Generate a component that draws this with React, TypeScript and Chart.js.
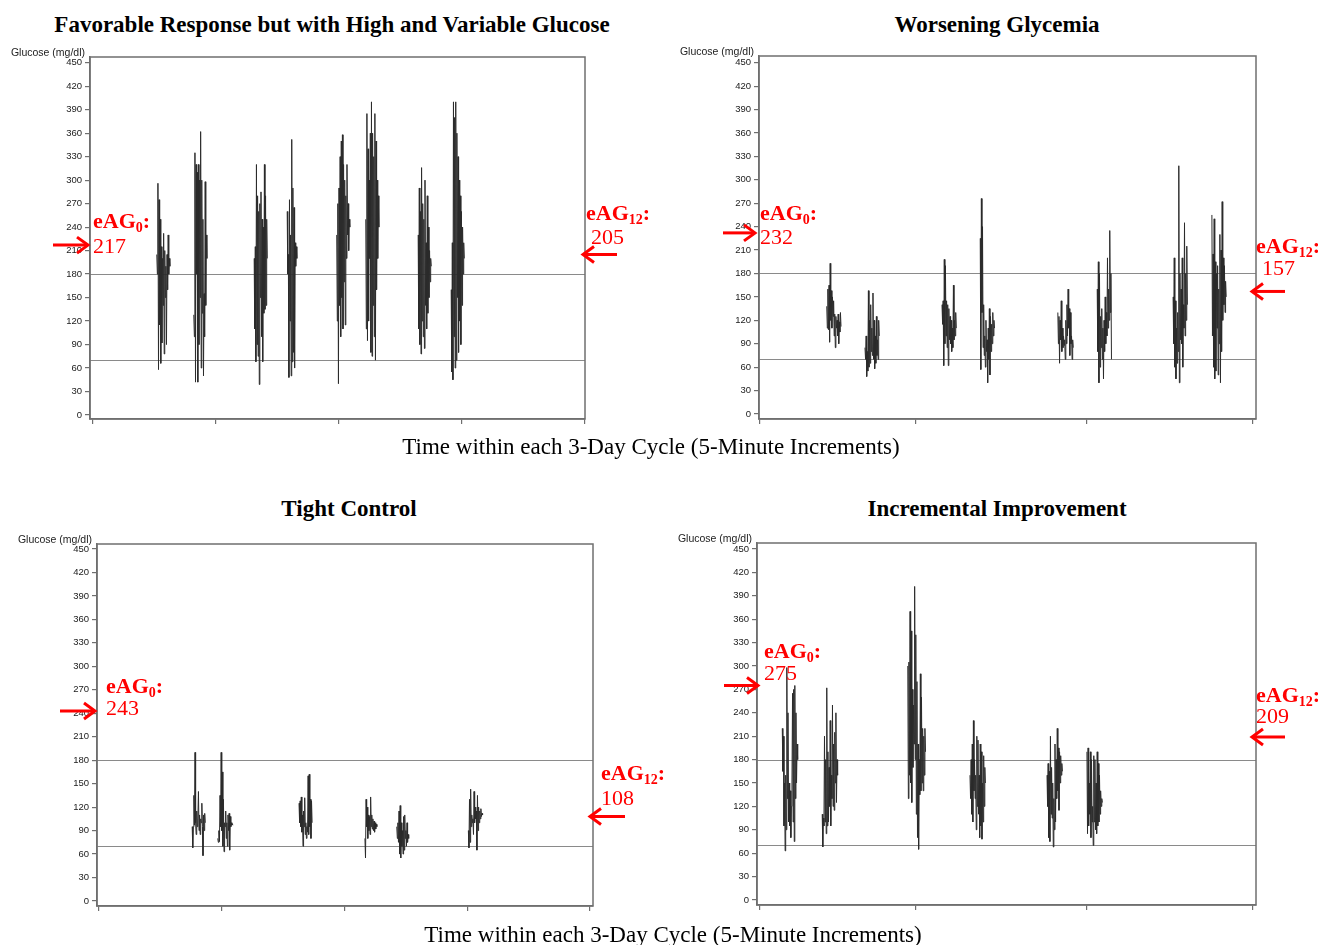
import React, { useEffect, useRef } from 'react';
import { Chart, registerables } from 'chart.js';

Chart.register(...registerables);

// ---------- text ----------
const TITLES = [
  'Favorable Response but with High and Variable Glucose',
  'Worsening Glycemia',
  'Tight Control',
  'Incremental Improvement',
];
const X_AXIS_TITLE = 'Time within each 3-Day Cycle (5-Minute Increments)';
const Y_AXIS_LABEL = 'Glucose (mg/dl)';

// ---------- axes ----------
const Y_TICKS = [0, 30, 60, 90, 120, 150, 180, 210, 240, 270, 300, 330, 360, 390, 420, 450];
const X_TICKS_LEFT = [0, 216, 432, 648, 864];
const X_TICKS_RIGHT = [0, 272, 573, 864];
const TARGET_HIGH = 180;
const TARGET_LOW = 70;

// ---------- eAG annotations ----------
const EAG_BASELINE = [217, 232, 243, 275];
const EAG_MONTH12 = [205, 157, 108, 209];

// ---------- glucose traces (start index in 5-min increments + readings) ----------
const favorableStarts = [112, 177, 283, 341, 428, 479, 571, 629];
const favorableBursts = [
  [205, 180, 296, 58, 275, 115, 250, 66, 215, 92, 200, 140, 232, 78, 210, 150, 190, 90, 205, 160, 230, 180, 200, 190],
  [128, 100, 335, 42, 320, 180, 310, 42, 320, 90, 300, 150, 362, 60, 300, 130, 250, 50, 155, 100, 298, 140, 230, 200],
  [200, 110, 215, 68, 320, 90, 280, 75, 260, 39, 270, 150, 285, 100, 250, 68, 240, 130, 320, 135, 280, 140, 250, 200],
  [260, 180, 205, 48, 275, 120, 230, 50, 352, 68, 290, 80, 265, 60, 220, 190, 215, 200],
  [230, 120, 270, 40, 290, 140, 330, 100, 350, 150, 358, 110, 320, 170, 300, 115, 280, 200, 320, 230, 270, 210, 250, 240],
  [250, 110, 385, 95, 340, 120, 300, 200, 360, 80, 400, 75, 360, 140, 330, 100, 385, 70, 350, 160, 300, 200, 280, 240],
  [230, 110, 290, 90, 260, 78, 316, 120, 270, 100, 250, 85, 300, 140, 220, 110, 280, 130, 240, 150, 210, 170, 200, 190],
  [160, 55, 220, 45, 400, 100, 380, 60, 400, 70, 360, 150, 330, 80, 300, 120, 280, 90, 260, 140, 240, 180, 220, 200],
];

const worseningStarts = [117, 184, 319, 386, 522, 591, 724, 792];
const worseningBursts = [
  [138, 110, 160, 108, 165, 92, 193, 120, 158, 110, 150, 125, 145, 100, 128, 85, 125, 110, 120, 100, 128, 90, 118, 105, 130, 112],
  [85, 70, 100, 48, 80, 55, 158, 60, 120, 65, 140, 80, 110, 75, 155, 70, 120, 58, 100, 65, 125, 75, 95, 70, 120, 100],
  [140, 115, 145, 62, 198, 90, 190, 100, 145, 85, 140, 62, 135, 95, 125, 90, 120, 80, 110, 85, 165, 95, 120, 100, 130, 110],
  [225, 57, 276, 130, 240, 85, 140, 75, 100, 60, 120, 80, 95, 40, 110, 70, 135, 50, 125, 80, 115, 90, 130, 100, 120, 110],
  [130, 90, 125, 65, 120, 95, 145, 80, 110, 85, 100, 88, 95, 70, 120, 90, 140, 100, 160, 110, 135, 75, 130, 90, 100, 70, 95, 85],
  [160, 80, 195, 40, 180, 60, 125, 85, 135, 70, 110, 45, 120, 80, 150, 90, 130, 100, 200, 110, 160, 120, 235, 130, 180, 70],
  [150, 90, 200, 60, 145, 45, 110, 65, 130, 80, 318, 40, 180, 95, 160, 90, 200, 60, 140, 110, 245, 100, 180, 120, 215, 140],
  [255, 100, 205, 60, 250, 45, 195, 55, 180, 110, 190, 50, 160, 90, 230, 40, 210, 80, 272, 120, 200, 140, 190, 130, 170, 150],
];

const tightStarts = [164, 209, 352, 468, 524, 650];
const tightBursts = [
  [95, 68, 95, 135, 97, 190, 100, 85, 115, 95, 105, 140, 90, 110, 85, 105, 100, 125, 95, 58, 110, 90, 112, 100],
  [80, 75, 90, 76, 135, 95, 190, 90, 165, 70, 130, 63, 100, 95, 115, 80, 100, 70, 110, 90, 112, 65, 108, 95, 100, 97, 98, 97],
  [125, 100, 128, 95, 133, 88, 110, 70, 115, 95, 132, 85, 100, 80, 95, 88, 160, 85, 162, 95, 130, 80, 128, 100],
  [80, 55, 130, 95, 120, 80, 110, 90, 108, 85, 133, 95, 110, 92, 105, 90, 102, 88, 100, 92, 98, 95],
  [95, 80, 100, 75, 115, 60, 122, 55, 100, 70, 90, 60, 108, 65, 110, 80, 90, 70, 100, 75, 85, 80],
  [90, 68, 130, 75, 143, 95, 110, 100, 105, 85, 140, 100, 120, 105, 115, 65, 135, 90, 120, 100, 115, 105, 118, 108, 112, 110],
];

const incrementalStarts = [39, 109, 259, 368, 503, 573];
const incrementalBursts = [
  [220, 165, 210, 95, 150, 63, 160, 90, 298, 130, 240, 100, 150, 95, 140, 80, 120, 150, 265, 100, 270, 75, 275, 130, 240, 150, 200, 180],
  [110, 68, 105, 95, 210, 100, 180, 85, 272, 95, 190, 100, 170, 120, 230, 95, 160, 130, 250, 120, 200, 115, 215, 150, 240, 125, 180, 160],
  [300, 130, 305, 160, 370, 150, 345, 125, 270, 170, 250, 200, 402, 180, 340, 110, 280, 80, 200, 65, 180, 135, 290, 140, 260, 150, 220, 140, 210, 160, 220, 190],
  [160, 130, 180, 110, 200, 100, 230, 140, 180, 130, 160, 90, 210, 120, 205, 110, 160, 80, 200, 95, 190, 78, 150, 100, 185, 120, 170, 150],
  [160, 120, 175, 80, 165, 75, 210, 110, 170, 105, 150, 68, 130, 90, 200, 100, 180, 130, 220, 140, 195, 115, 190, 150, 185, 160, 175, 165],
  [190, 85, 195, 95, 150, 110, 190, 80, 180, 100, 120, 70, 185, 100, 180, 90, 150, 85, 190, 95, 175, 100, 160, 110, 140, 120, 130, 125],
];

const SERIES_STARTS = [favorableStarts, worseningStarts, tightStarts, incrementalStarts];
const SERIES_BURSTS = [favorableBursts, worseningBursts, tightBursts, incrementalBursts];

// ---------- layout / style (not data) ----------
const RED = '#ff0000';
const SERIF = '"Liberation Serif", "Times New Roman", serif';
const SANS = '"Liberation Sans", Arial, sans-serif';
const FRAME = '#6f6f6f';

type Side = { tail: number; tip: number; textX: number; numX: number; eagBase: number; numBase: number };
type Layout = {
  left: number; top: number; width: number; height: number;
  axisWidth: number; padRight: number; padTop: number; padBottom: number;
  xMin: number; xMax: number; yMin: number; yMax: number; xTicks: number[];
  l: Side; r: Side;
};

const LAYOUTS: Layout[] = [
  {
    left: 0, top: 40, width: 660, height: 400, axisWidth: 90, padRight: 75, padTop: 17, padBottom: 11,
    xMin: -5.3, xMax: 864, yMin: -5.1, yMax: 457.3, xTicks: X_TICKS_LEFT,
    l: { tail: 53, tip: 88, textX: 93, numX: 93, eagBase: 188, numBase: 213 },
    r: { tail: 617, tip: 583, textX: 586, numX: 591, eagBase: 180, numBase: 204 },
  },
  {
    left: 660, top: 40, width: 658, height: 400, axisWidth: 99, padRight: 62, padTop: 16, padBottom: 11,
    xMin: -1.75, xMax: 869.3, yMin: -6.4, yMax: 458.6, xTicks: X_TICKS_RIGHT,
    l: { tail: 63, tip: 95, textX: 100, numX: 100, eagBase: 180, numBase: 204 },
    r: { tail: 625, tip: 592, textX: 596, numX: 602, eagBase: 213, numBase: 235 },
  },
  {
    left: 0, top: 525, width: 690, height: 400, axisWidth: 97, padRight: 97, padTop: 19, padBottom: 9,
    xMin: -3.5, xMax: 869.3, yMin: -6.4, yMax: 456.4, xTicks: X_TICKS_LEFT,
    l: { tail: 60, tip: 95, textX: 106, numX: 106, eagBase: 168, numBase: 190 },
    r: { tail: 625, tip: 590, textX: 601, numX: 601, eagBase: 255, numBase: 280 },
  },
  {
    left: 660, top: 525, width: 658, height: 400, axisWidth: 97, padRight: 62, padTop: 18, padBottom: 10,
    xMin: -5.3, xMax: 869.3, yMin: -6.4, yMax: 457.7, xTicks: X_TICKS_RIGHT,
    l: { tail: 64, tip: 98, textX: 104, numX: 104, eagBase: 133, numBase: 155 },
    r: { tail: 625, tip: 592, textX: 596, numX: 596, eagBase: 177, numBase: 198 },
  },
];

function buildPoints(starts: number[], bursts: number[][]) {
  const pts: { x: number; y: number | null }[] = [];
  bursts.forEach((vals, b) => {
    vals.forEach((v, i) => pts.push({ x: starts[b] + i, y: v }));
    pts.push({ x: starts[b] + vals.length, y: null });
  });
  return pts;
}

function drawArrow(ctx: CanvasRenderingContext2D, tail: number, tip: number, y: number) {
  const dir = Math.sign(tip - tail);
  ctx.save();
  ctx.strokeStyle = RED;
  ctx.lineWidth = 3;
  ctx.lineCap = 'butt';
  ctx.lineJoin = 'miter';
  ctx.beginPath();
  ctx.moveTo(tail, y);
  ctx.lineTo(tip - dir * 2, y);
  ctx.stroke();
  ctx.beginPath();
  ctx.moveTo(tip - dir * 11, y - 8);
  ctx.lineTo(tip, y);
  ctx.lineTo(tip - dir * 11, y + 8);
  ctx.stroke();
  ctx.restore();
}

function drawEag(ctx: CanvasRenderingContext2D, x: number, base: number, sub: string) {
  ctx.save();
  ctx.fillStyle = RED;
  ctx.textAlign = 'left';
  ctx.textBaseline = 'alphabetic';
  ctx.font = `bold 22px ${SERIF}`;
  ctx.fillText('eAG', x, base);
  let w = ctx.measureText('eAG').width;
  ctx.font = `bold 14px ${SERIF}`;
  ctx.fillText(sub, x + w, base + 4);
  w += ctx.measureText(sub).width;
  ctx.font = `bold 22px ${SERIF}`;
  ctx.fillText(':', x + w, base);
  ctx.restore();
}

function makePlugin(idx: number) {
  const L = LAYOUTS[idx];
  return {
    id: 'panelDecor' + idx,
    beforeDatasetsDraw(chart: any) {
      const { ctx, chartArea } = chart;
      const y = chart.scales.y;
      ctx.save();
      ctx.strokeStyle = '#8a8a8a';
      ctx.lineWidth = 1;
      [TARGET_HIGH, TARGET_LOW].forEach((v) => {
        const py = Math.round(y.getPixelForValue(v)) + 0.5;
        ctx.beginPath();
        ctx.moveTo(chartArea.left, py);
        ctx.lineTo(chartArea.right, py);
        ctx.stroke();
      });
      ctx.restore();
    },
    afterDraw(chart: any) {
      const { ctx, chartArea } = chart;
      const y = chart.scales.y;
      ctx.save();
      ctx.strokeStyle = FRAME;
      ctx.lineWidth = 1.5;
      ctx.strokeRect(chartArea.left, chartArea.top, chartArea.right - chartArea.left, chartArea.bottom - chartArea.top);
      ctx.fillStyle = '#222';
      ctx.font = `10.5px ${SANS}`;
      ctx.textAlign = 'right';
      ctx.textBaseline = 'middle';
      ctx.fillText(Y_AXIS_LABEL, chartArea.left - 5, chartArea.top - 4);
      ctx.restore();

      // left: baseline eAG
      const yl = y.getPixelForValue(EAG_BASELINE[idx]);
      drawArrow(ctx, L.l.tail, L.l.tip, yl);
      drawEag(ctx, L.l.textX, L.l.eagBase, '0');
      ctx.save();
      ctx.fillStyle = RED;
      ctx.font = `22px ${SERIF}`;
      ctx.textAlign = 'left';
      ctx.fillText(String(EAG_BASELINE[idx]), L.l.numX, L.l.numBase);
      ctx.restore();

      // right: 12-month eAG
      const yr = y.getPixelForValue(EAG_MONTH12[idx]);
      drawArrow(ctx, L.r.tail, L.r.tip, yr);
      drawEag(ctx, L.r.textX, L.r.eagBase, '12');
      ctx.save();
      ctx.fillStyle = RED;
      ctx.font = `22px ${SERIF}`;
      ctx.textAlign = 'left';
      ctx.fillText(String(EAG_MONTH12[idx]), L.r.numX, L.r.numBase);
      ctx.restore();
    },
  };
}

function Panel({ idx }: { idx: number }) {
  const ref = useRef<HTMLCanvasElement | null>(null);
  const L = LAYOUTS[idx];
  useEffect(() => {
    if (!ref.current) return;
    const chart = new Chart(ref.current, {
      type: 'line',
      data: {
        datasets: [
          {
            data: buildPoints(SERIES_STARTS[idx], SERIES_BURSTS[idx]) as any,
            borderColor: '#2b2b2b',
            borderWidth: 1,
            pointRadius: 0,
            tension: 0,
            spanGaps: false,
          },
        ],
      },
      options: {
        animation: false,
        responsive: false,
        maintainAspectRatio: false,
        devicePixelRatio: 1,
        layout: { padding: { left: 0, right: L.padRight, top: L.padTop, bottom: L.padBottom } },
        plugins: { legend: { display: false }, tooltip: { enabled: false }, title: { display: false } },
        events: [],
        scales: {
          x: {
            type: 'linear',
            min: L.xMin,
            max: L.xMax,
            afterBuildTicks: (s: any) => {
              s.ticks = L.xTicks.map((v) => ({ value: v }));
            },
            afterFit: (s: any) => {
              s.height = 10;
            },
            ticks: { display: false },
            grid: { display: true, drawOnChartArea: false, drawTicks: true, tickLength: 5, color: FRAME, lineWidth: 1.2 },
            border: { display: true, color: FRAME, width: 1.5 },
          },
          y: {
            type: 'linear',
            min: L.yMin,
            max: L.yMax,
            afterBuildTicks: (s: any) => {
              s.ticks = Y_TICKS.map((v) => ({ value: v }));
            },
            afterFit: (s: any) => {
              s.width = L.axisWidth;
            },
            ticks: {
              color: '#1a1a1a',
              font: { family: SANS, size: 9.5 },
              padding: 3,
              autoSkip: false,
              callback: (v: any) => String(v),
            },
            grid: { display: true, drawOnChartArea: false, drawTicks: true, tickLength: 5, color: FRAME, lineWidth: 1.2 },
            border: { display: true, color: FRAME, width: 1.5 },
          },
        },
      },
      plugins: [makePlugin(idx)],
    } as any);
    return () => chart.destroy();
  }, [idx]);
  return (
    <canvas
      ref={ref}
      width={L.width}
      height={L.height}
      style={{ position: 'absolute', left: L.left, top: L.top, width: L.width, height: L.height }}
    />
  );
}

const TITLE_POS = [
  [332, 24],
  [997, 24],
  [349, 508],
  [997, 508],
];
const XTITLE_POS = [
  [651, 446],
  [673, 934],
];

export default function App() {
  const textStyle = (cx: number, cy: number, bold: boolean): React.CSSProperties => ({
    position: 'absolute',
    left: cx,
    top: cy,
    transform: 'translate(-50%, -50%)',
    whiteSpace: 'nowrap',
    fontFamily: SERIF,
    fontWeight: bold ? 'bold' : 'normal',
    fontSize: 23,
    lineHeight: 1,
    color: '#000',
  });
  return (
    <div style={{ position: 'absolute', left: 0, top: 0, width: 1318, height: 945, background: '#fff', overflow: 'hidden' }}>
      {[0, 1, 2, 3].map((i) => (
        <Panel key={i} idx={i} />
      ))}
      {TITLES.map((t, i) => (
        <div key={'t' + i} style={textStyle(TITLE_POS[i][0], TITLE_POS[i][1], true)}>
          {t}
        </div>
      ))}
      {XTITLE_POS.map((p, i) => (
        <div key={'x' + i} style={textStyle(p[0], p[1], false)}>
          {X_AXIS_TITLE}
        </div>
      ))}
    </div>
  );
}
